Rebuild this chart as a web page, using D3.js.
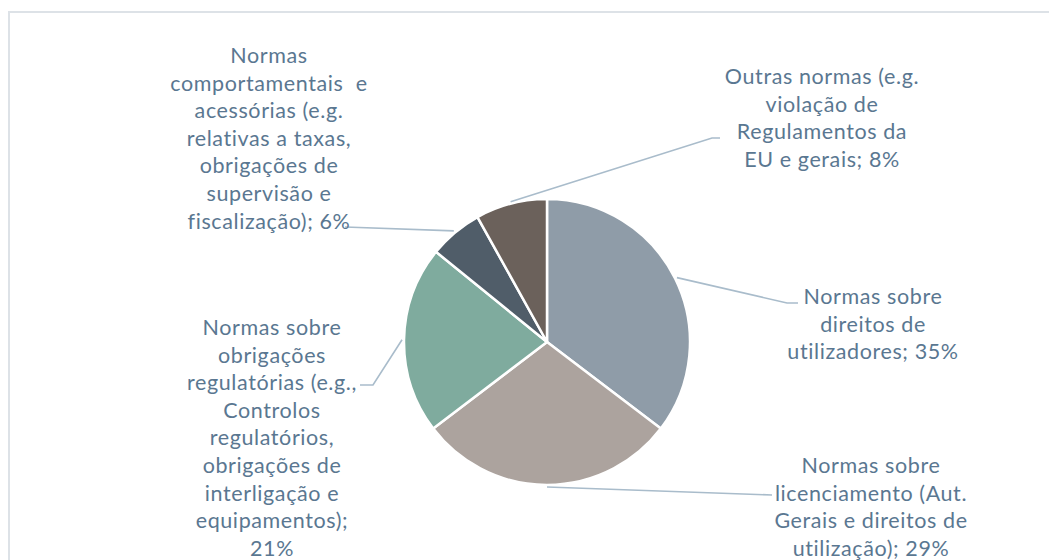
<!DOCTYPE html>
<html>
<head>
<meta charset="utf-8">
<script src="https://cdn.jsdelivr.net/npm/d3@7"></script>
<style>
  html, body { margin: 0; padding: 0; background: #fff; }
  svg { display: block; }
</style>
</head>
<body>
<svg id="chart" width="1049" height="560"></svg>
<script>
// ---- data ----
const categories = [
  "Normas sobre direitos de utilizadores",
  "Normas sobre licenciamento (Aut. Gerais e direitos de utilização)",
  "Normas sobre obrigações regulatórias (e.g., Controlos regulatórios, obrigações de interligação e equipamentos)",
  "Normas comportamentais  e acessórias (e.g. relativas a taxas, obrigações de supervisão e fiscalização)",
  "Outras normas (e.g. violação de Regulamentos da EU e gerais"
];
const values = [35, 29, 21, 6, 8];
const labelLines = [
  ["Normas sobre", "direitos de", "utilizadores; 35%"],
  ["Normas sobre", "licenciamento (Aut.", "Gerais e direitos de", "utilização); 29%"],
  ["Normas sobre", "obrigações", "regulatórias (e.g.,", "Controlos", "regulatórios,", "obrigações de", "interligação e", "equipamentos);", "21%"],
  ["Normas", "comportamentais  e", "acessórias (e.g.", "relativas a taxas,", "obrigações de", "supervisão e", "fiscalização); 6%"],
  ["Outras normas (e.g.", "violação de", "Regulamentos da", "EU e gerais; 8%"]
];
const colors = ["#8f9ca8", "#aca39e", "#7fab9e", "#505d69", "#6b615b"];

// ---- layout (positions only) ----
const cx = 547, cy = 342, R = 143;
const labelPos = [   // text centre x, first baseline y
  {x: 873, y: 304},
  {x: 871, y: 473},
  {x: 272, y: 335},
  {x: 269, y: 63},
  {x: 822, y: 84}
];
const leaderEnds = [ // elbow points and end points
  [[787, 303], [798, 303]],
  [[772, 495]],
  [[373, 385], [360, 385]],
  [[345, 227]],
  [[712, 138], [720, 138]]
];
const lineH = 27.6;

const svg = d3.select("#chart");

// frame
svg.append("rect")
  .attr("x", 9).attr("y", 12)
  .attr("width", 1100).attr("height", 600)
  .attr("fill", "none")
  .attr("stroke", "#dde2e7")
  .attr("stroke-width", 2);

const pie = d3.pie().sort(null).value(d => d)(values);
const arc = d3.arc().innerRadius(0).outerRadius(R);

const g = svg.append("g").attr("transform", `translate(${cx},${cy})`);
g.selectAll("path.slice")
  .data(pie)
  .join("path")
  .attr("class", "slice")
  .attr("d", arc)
  .attr("fill", (d, i) => colors[i])
  .attr("stroke", "#ffffff")
  .attr("stroke-width", 2.5)
  .attr("stroke-linejoin", "round");

// leader lines
const lr = R + 2;
pie.forEach((d, i) => {
  const a = (d.startAngle + d.endAngle) / 2;
  const start = [cx + lr * Math.sin(a), cy - lr * Math.cos(a)];
  const pts = [start].concat(leaderEnds[i]);
  svg.append("path")
    .attr("d", d3.line()(pts))
    .attr("fill", "none")
    .attr("stroke", "#a9bccb")
    .attr("stroke-width", 1.6);
});

// labels
labelLines.forEach((lines, i) => {
  const t = svg.append("text")
    .attr("text-anchor", "middle")
    .attr("font-family", "Lato, 'Open Sans', sans-serif")
    .attr("font-size", 21.5)
    .attr("letter-spacing", 0.6)
    .attr("fill", "#5a7791")
    .attr("xml:space", "preserve")
    .style("white-space", "pre");
  lines.forEach((ln, j) => {
    t.append("tspan")
      .attr("x", labelPos[i].x)
      .attr("y", labelPos[i].y + j * lineH)
      .text(ln);
  });
});
</script>
</body>
</html>
